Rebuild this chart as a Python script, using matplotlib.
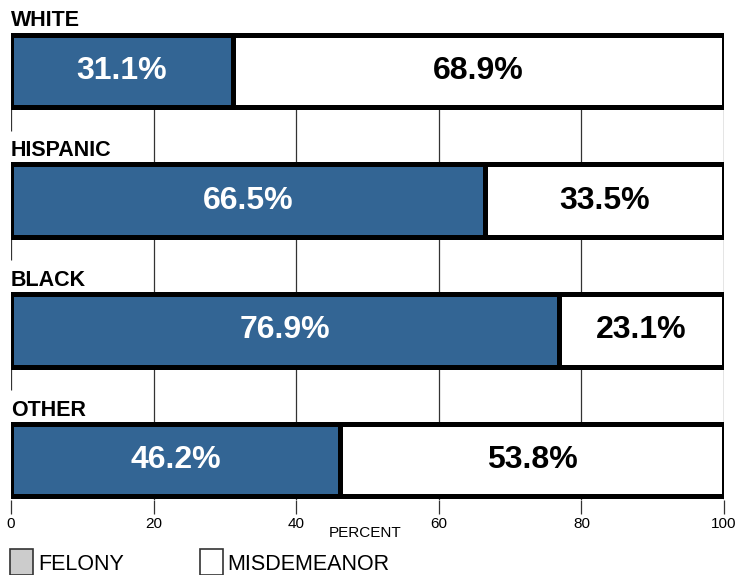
import matplotlib.pyplot as plt
from matplotlib.patches import Rectangle

plt.rcParams['font.family'] = ['Liberation Sans', 'DejaVu Sans']

# ============ data ============
groups = ['WHITE', 'HISPANIC', 'BLACK', 'OTHER']
felony = [31.1, 66.5, 76.9, 46.2]
misdemeanor = [68.9, 33.5, 23.1, 53.8]
xticks = [0, 20, 40, 60, 80, 100]

BLUE = '#336594'
BAR_H = 0.56

fig = plt.figure(figsize=(7.38, 5.75), dpi=100)
ax = fig.add_axes([11 / 738, 75 / 575, 713 / 738, 500 / 575])
ax.set_xlim(0, 100)
ax.set_ylim(3.308, -0.5475)

ypos = list(range(len(groups)))

# grid lines behind bars
ax.vlines(xticks[1:], ypos[0] + BAR_H / 2, 3.308, color='#333333', lw=0.9, zorder=0)
ax.vlines([0] * 3, [y + BAR_H / 2 for y in ypos[:3]],
          [y + BAR_H / 2 + 0.18 for y in ypos[:3]], color='#333333', lw=0.9, zorder=0)

ax.barh(ypos, felony, height=BAR_H, color=BLUE, edgecolor='black', lw=3.6, zorder=2)
ax.barh(ypos, misdemeanor, left=felony, height=BAR_H, color='white',
        edgecolor='black', lw=3.6, zorder=2)

for y, g, f, m in zip(ypos, groups, felony, misdemeanor):
    ax.text(f / 2, y, f'{f}%', ha='center', va='center', color='white',
            fontsize=23, fontweight='bold', zorder=3)
    ax.text(f + m / 2, y, f'{m}%', ha='center', va='center', color='black',
            fontsize=23, fontweight='bold', zorder=3)
    ax.text(0, y - BAR_H / 2 - 0.025, g, ha='left', va='bottom', fontsize=15.5,
            fontweight='bold', clip_on=False)

for s in ax.spines.values():
    s.set_visible(False)
ax.set_yticks([])
ax.set_xticks(xticks)
ax.tick_params(axis='x', length=10, width=0.9, color='#333333', labelsize=11, pad=2)

fig.text(365 / 738, 1 - 533 / 575, 'PERCENT', ha='center', va='center', fontsize=11)

# legend
fig.add_artist(Rectangle((10 / 738, 0), 23 / 738, 26 / 575, transform=fig.transFigure,
                         facecolor='#cccccc', edgecolor='#333333', lw=1.2))
fig.text(38 / 738, 1 - 564 / 575, 'FELONY', ha='left', va='center', fontsize=15.5)
fig.add_artist(Rectangle((200 / 738, 0), 23 / 738, 26 / 575, transform=fig.transFigure,
                         facecolor='white', edgecolor='#333333', lw=1.2))
fig.text(227 / 738, 1 - 564 / 575, 'MISDEMEANOR', ha='left', va='center', fontsize=15.5)

fig.savefig('out.png', dpi=100)
